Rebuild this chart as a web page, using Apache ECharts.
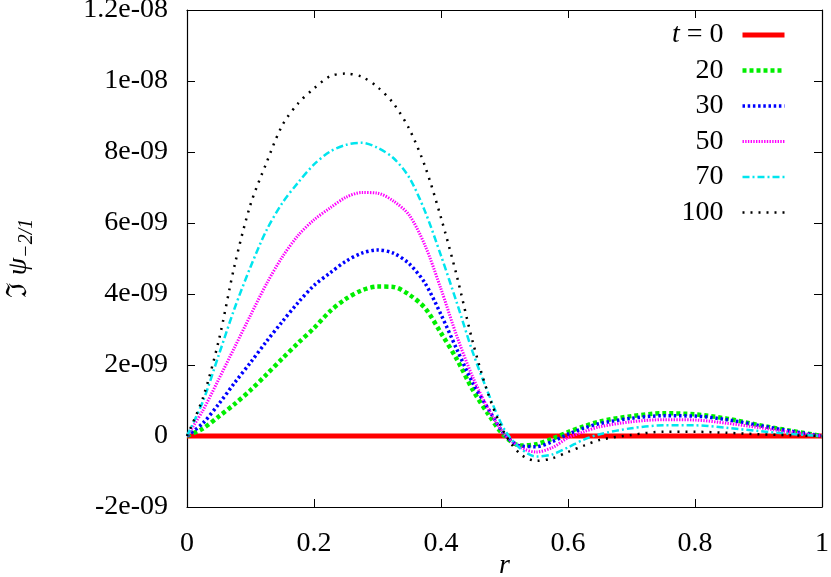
<!DOCTYPE html>
<html>
<head>
<meta charset="utf-8">
<script src="https://cdn.jsdelivr.net/npm/echarts@6/dist/echarts.min.js"></script>
<style>
  html, body { margin: 0; padding: 0; background: #fff; }
  #main { width: 831px; height: 577px; }
</style>
</head>
<body>
<div id="main"></div>
<script>
// r grid shared by every curve
var rGrid = [0, 0.025, 0.05, 0.075, 0.1, 0.125, 0.15, 0.175, 0.2, 0.225, 0.25, 0.275, 0.3, 0.325, 0.35, 0.375,
    0.4, 0.425, 0.45, 0.475, 0.5, 0.525, 0.55, 0.575, 0.6, 0.625, 0.65, 0.7, 0.75, 0.8, 0.85, 0.9, 0.95, 1];

// Im psi values, in units of 1e-9
var t0 = [0, 0, 0, 0, 0, 0, 0, 0, 0, 0, 0, 0, 0, 0, 0, 0, 0, 0, 0, 0, 0, 0, 0, 0, 0, 0, 0, 0, 0, 0, 0, 0, 0, 0];
var t20 = [0, 0.21, 0.55, 0.9, 1.29, 1.73, 2.18, 2.62, 3.04, 3.51, 3.86, 4.10, 4.21, 4.20, 3.98, 3.60,
    2.90, 2.16, 1.30, 0.60, 0.0, -0.27, -0.23, -0.08, 0.11, 0.27, 0.41, 0.56, 0.64, 0.61, 0.49, 0.31, 0.15, 0];
var t30 = [0, 0.36, 0.90, 1.5, 2.07, 2.66, 3.22, 3.76, 4.24, 4.59, 4.92, 5.15, 5.24, 5.15, 4.85, 4.30,
    3.42, 2.44, 1.50, 0.75, 0.05, -0.28, -0.30, -0.16, 0.05, 0.22, 0.35, 0.50, 0.57, 0.56, 0.46, 0.30, 0.14, 0];
var t50 = [0, 0.72, 1.6, 2.5, 3.4, 4.28, 5.04, 5.65, 6.09, 6.42, 6.72, 6.86, 6.84, 6.62, 6.22, 5.36,
    4.14, 2.81, 1.66, 0.75, 0.05, -0.32, -0.45, -0.33, -0.05, 0.12, 0.26, 0.40, 0.46, 0.45, 0.36, 0.24, 0.11, 0];
var t70 = [0, 0.97, 2.28, 3.6, 4.76, 5.79, 6.56, 7.14, 7.65, 8.01, 8.20, 8.26, 8.12, 7.83, 7.28, 6.32,
    5.08, 3.75, 2.36, 1.18, 0.18, -0.35, -0.58, -0.52, -0.32, -0.10, 0.05, 0.22, 0.30, 0.30, 0.23, 0.14, 0.06, 0];
var t100 = [0, 1.07, 2.69, 4.81, 6.52, 7.69, 8.75, 9.37, 9.79, 10.13, 10.21, 10.12, 9.83, 9.37, 8.65, 7.59,
    6.15, 4.50, 2.65, 1.15, 0.08, -0.51, -0.70, -0.63, -0.45, -0.27, -0.11, 0.03, 0.12, 0.12, 0.09, 0.05, 0.02, 0];

var seriesNames = ['t = 0', '20', '30', '50', '70', '100'];
var yTickLabels = ['-2e-09', '0', '2e-09', '4e-09', '6e-09', '8e-09', '1e-08', '1.2e-08'];
var xTickLabels = ['0', '0.2', '0.4', '0.6', '0.8', '1'];

var font = "'Liberation Serif', 'Times New Roman', 'DejaVu Serif', serif";

function pairs(vals) {
    return rGrid.map(function (r, i) { return [r, vals[i]]; });
}

var styles = [
    { color: '#ff0000', width: 5, type: 'solid' },
    { color: '#00ee00', width: 4.5, type: [4, 3] },
    { color: '#0000ff', width: 3.5, type: [2.5, 2.7] },
    { color: '#ff00ff', width: 3, type: [1.4, 1.3] },
    { color: '#00e5ee', width: 2.5, type: [7, 3, 2, 3] },
    { color: '#000000', width: 2.5, type: [2, 6] }
];
var allVals = [t0, t20, t30, t50, t70, t100];

var myChart = echarts.init(document.getElementById('main'));

var tickStyle = { show: true, inside: true, length: 8, lineStyle: { color: '#000', width: 1 } };
var lineAxis = { show: true, onZero: false, lineStyle: { color: '#000', width: 1.2 } };

myChart.setOption({
    backgroundColor: '#fff',
    animation: false,
    grid: { left: 187, right: 9, top: 10, bottom: 70, outerBoundsMode: 'none', containLabel: false },
    legend: {
        data: seriesNames.map(function (name, k) {
            return {
                name: name,
                itemStyle: { opacity: 0 },
                lineStyle: { color: styles[k].color, width: styles[k].width, type: styles[k].type }
            };
        }),
        orient: 'vertical',
        align: 'right',
        right: 44,
        top: 21,
        padding: 0,
        itemWidth: 42,
        itemHeight: 14,
        itemGap: 7.5,
        formatter: function (name) {
            if (name === 't = 0') return '{i|t}{n| = 0}';
            return '{n|' + name + '}';
        },
        textStyle: {
            fontFamily: font,
            fontSize: 28,
            color: '#000',
            rich: {
                i: { fontFamily: font, fontSize: 28, fontStyle: 'italic', lineHeight: 28 },
                n: { fontFamily: font, fontSize: 28, lineHeight: 28, padding: [0, 14, 0, 0] }
            }
        }
    },
    xAxis: [{
        type: 'value',
        min: 0,
        max: 1,
        interval: 0.2,
        name: 'r',
        nameLocation: 'middle',
        nameGap: 45,
        nameMoveOverlap: false,
        nameTextStyle: { fontFamily: font, fontSize: 28, fontStyle: 'italic', color: '#000' },
        axisLine: lineAxis,
        axisTick: tickStyle,
        splitLine: { show: false },
        axisLabel: {
            margin: 23,
            fontFamily: font,
            fontSize: 28,
            color: '#000',
            formatter: function (v) { return xTickLabels[Math.round(v / 0.2)]; }
        }
    }, {
        type: 'value',
        position: 'top',
        min: 0,
        max: 1,
        interval: 0.2,
        axisLine: lineAxis,
        axisTick: tickStyle,
        splitLine: { show: false },
        axisLabel: { show: false }
    }],
    yAxis: [{
        type: 'value',
        min: -2,
        max: 12,
        interval: 2,
        name: '{m|\u2111 }{p|\u03c8}{s|\u22122/1}',
        nameLocation: 'middle',
        nameRotate: 90,
        nameGap: 150,
        nameMoveOverlap: false,
        nameTextStyle: {
            color: '#000',
            rich: {
                m: { fontFamily: font, fontSize: 28, lineHeight: 36, color: '#000' },
                p: { fontFamily: font, fontSize: 28, fontStyle: 'italic', lineHeight: 36, color: '#000' },
                s: { fontFamily: font, fontSize: 20, fontStyle: 'italic', lineHeight: 20, verticalAlign: 'bottom', color: '#000' }
            }
        },
        axisLine: lineAxis,
        axisTick: tickStyle,
        splitLine: { show: false },
        axisLabel: {
            margin: 19,
            fontFamily: font,
            fontSize: 28,
            color: '#000',
            formatter: function (v) { return yTickLabels[Math.round((v + 2) / 2)]; }
        }
    }, {
        type: 'value',
        position: 'right',
        min: -2,
        max: 12,
        interval: 2,
        axisLine: lineAxis,
        axisTick: tickStyle,
        splitLine: { show: false },
        axisLabel: { show: false }
    }],
    series: seriesNames.map(function (name, k) {
        return {
            name: name,
            type: 'line',
            xAxisIndex: 0,
            yAxisIndex: 0,
            data: pairs(allVals[k]),
            smooth: 0.3,
            symbol: 'none',
            color: styles[k].color,
            lineStyle: { color: styles[k].color, width: styles[k].width, type: styles[k].type },
            z: 2 + k
        };
    })
});
</script>
</body>
</html>
